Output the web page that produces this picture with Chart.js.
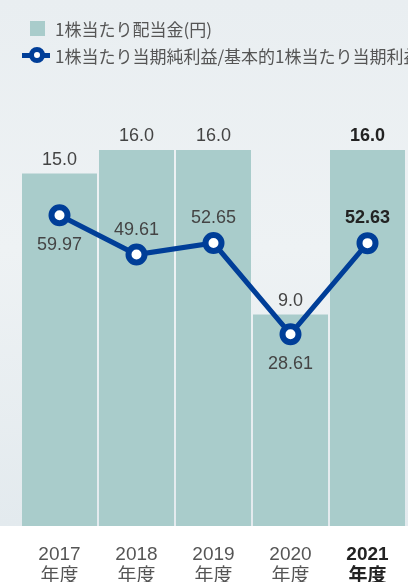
<!DOCTYPE html>
<html lang="ja">
<head>
<meta charset="utf-8">
<script src="https://cdn.jsdelivr.net/npm/chart.js@4.4.1/dist/chart.umd.min.js"></script>
<style>
  html, body { margin: 0; padding: 0; }
  body {
    width: 408px; height: 582px; overflow: hidden; position: relative;
    background: linear-gradient(to bottom, #e9eef1 0px, #eef2f4 250px, #e3eaee 526px, #ffffff 526px);
    font-family: "Noto Sans CJK JP", "Liberation Sans", sans-serif;
  }
  #chart { position: absolute; left: 0; top: 0; }
  .legend { position: absolute; left: 0; top: 0; white-space: nowrap; font-size: 17px; line-height: 1; color: #555; }
  .legend .sq { position: absolute; left: 30px; top: 21px; width: 15px; height: 15px; background: #a9cccb; }
  .legend .ln { position: absolute; left: 22px; top: 53px; width: 28px; height: 5px; background: #003e98; }
  .legend .pt { position: absolute; left: 29px; top: 47px; width: 6px; height: 6px; border: 5px solid #003e98; border-radius: 50%; background: #fff; }
  .legend span { position: absolute; left: 55px; }
</style>
</head>
<body>
<canvas id="chart" width="408" height="582"></canvas>
<div class="legend">
  <div class="sq"></div><span style="top:20px">1株当たり配当金(円)</span>
  <div class="ln"></div><div class="pt"></div><span style="top:47px">1株当たり当期純利益/基本的1株当たり当期利益(円)</span>
</div>
<script>
// 年度ラベル
const years = ['2017', '2018', '2019', '2020', '2021'];
// 1株当たり配当金
const dividends = [15.0, 16.0, 16.0, 9.0, 16.0];
// 1株当たり当期純利益
const eps = [59.97, 49.61, 52.65, 28.61, 52.63];
// ラベル位置 (点の上か下か)
const epsLabelBelow = [true, false, false, true, false];

const labelPlugin = {
    id: 'valueLabels',
    afterDatasetsDraw(chart) {
        const ctx = chart.ctx;
        ctx.save();
        ctx.textAlign = 'center';
        ctx.textBaseline = 'alphabetic';
        // bar values
        chart.getDatasetMeta(0).data.forEach((bar, i) => {
            const last = i === years.length - 1;
            ctx.font = (last ? 'bold ' : '') + '18px "Liberation Sans", sans-serif';
            ctx.fillStyle = last ? '#222' : '#444';
            ctx.fillText(dividends[i].toFixed(1), bar.x, bar.y - 9);
        });
        // line values
        chart.getDatasetMeta(1).data.forEach((pt, i) => {
            const last = i === years.length - 1;
            ctx.font = (last ? 'bold ' : '') + '18px "Liberation Sans", sans-serif';
            ctx.fillStyle = last ? '#222' : '#444';
            const y = epsLabelBelow[i] ? pt.y + 35 : pt.y - 20;
            ctx.fillText(eps[i].toFixed(2), pt.x, y);
        });
        ctx.restore();
    }
};

new Chart(document.getElementById('chart'), {
    type: 'bar',
    data: {
        labels: years.map(y => [y, '年度']),
        datasets: [
            {
                type: 'bar',
                label: '1株当たり配当金(円)',
                data: dividends,
                backgroundColor: '#a9cccb',
                borderWidth: 0,
                categoryPercentage: 1,
                barPercentage: 0.974,
                yAxisID: 'y',
                order: 1
            },
            {
                type: 'line',
                label: '1株当たり当期純利益/基本的1株当たり当期利益(円)',
                data: eps,
                borderColor: '#003e98',
                borderWidth: 5,
                pointRadius: 8,
                pointBorderWidth: 6,
                pointBackgroundColor: '#ffffff',
                pointBorderColor: '#003e98',
                tension: 0,
                yAxisID: 'y1',
                order: 0
            }
        ]
    },
    options: {
        responsive: false,
        animation: false,
        devicePixelRatio: 1,
        layout: { autoPadding: false, padding: { left: 21, right: 2, top: 56, bottom: 0 } },
        plugins: {
            legend: { display: false },
            tooltip: { enabled: false }
        },
        scales: {
            x: {
                grid: { display: false, drawTicks: false },
                border: { display: false },
                ticks: {
                    padding: 18,
                    font: ctx => ({
                        family: '"Liberation Sans", "Noto Sans CJK JP", sans-serif',
                        size: 19,
                        lineHeight: 1.15,
                        weight: ctx.index === years.length - 1 ? 'bold' : 'normal'
                    }),
                    color: ctx => ctx.index === years.length - 1 ? '#222' : '#555'
                },
                afterFit(scale) { scale.height = 56; }
            },
            y: { display: false, min: 0, max: 20 },
            y1: { display: false, min: -22, max: 102 }
        }
    },
    plugins: [labelPlugin]
});
</script>
</body>
</html>
